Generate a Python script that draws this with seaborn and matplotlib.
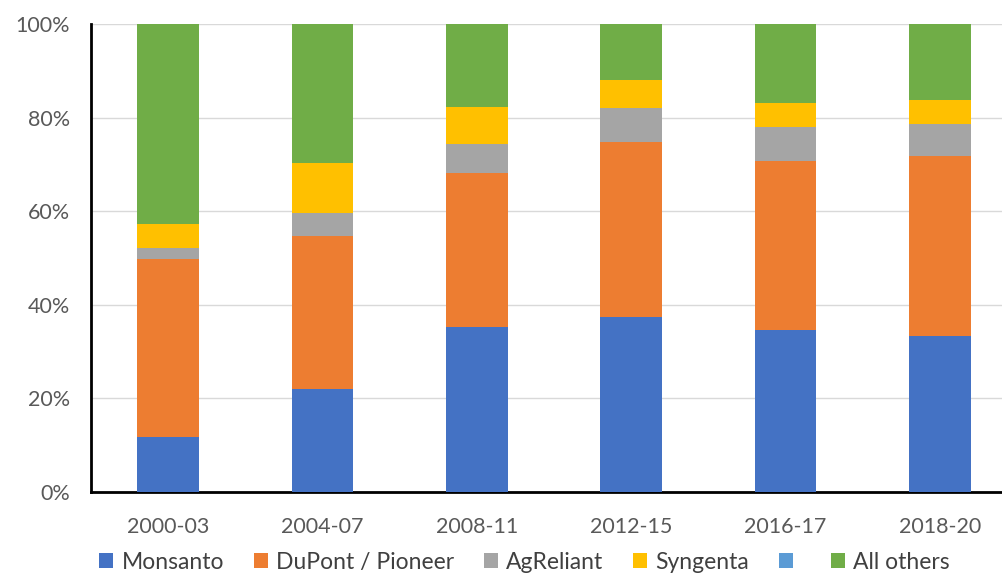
import matplotlib
matplotlib.use("Agg")
import matplotlib.pyplot as plt
from matplotlib.patches import Patch
import seaborn as sns
import pandas as pd
import numpy as np

periods = ["2000-03", "2004-07", "2008-11", "2012-15", "2016-17", "2018-20"]
monsanto = [11.7, 22.1, 35.2, 37.4, 34.6, 33.3]
dupont = [38.0, 32.5, 33.0, 37.4, 36.1, 38.5]
agreliant = [2.5, 5.0, 6.2, 7.3, 7.2, 6.8]
syngenta = [5.0, 10.6, 7.9, 6.0, 5.2, 5.1]
blank = [0, 0, 0, 0, 0, 0]
all_others = [42.8, 29.8, 17.7, 11.9, 16.9, 16.3]

series_names = ["Monsanto", "DuPont / Pioneer", "AgReliant", "Syngenta", "", "All others"]
series_values = [monsanto, dupont, agreliant, syngenta, blank, all_others]
colors = ["#4472C4", "#ED7D31", "#A5A5A5", "#FFC000", "#5B9BD5", "#70AD47"]
y_ticks = [0, 20, 40, 60, 80, 100]

sns.set_theme(style="white")
plt.rcParams["font.family"] = ["Lato", "DejaVu Sans"]

fig = plt.figure(figsize=(10.03, 5.73), dpi=100)
ax = fig.add_axes([91 / 1003, 81 / 573, 926 / 1003, 468 / 573])

# stacked: draw cumulative totals from top layer downward
df = pd.DataFrame({"period": periods})
cum = np.cumsum(np.array(series_values, dtype=float), axis=0)
for i in reversed(range(len(series_names))):
    df["val"] = cum[i]
    sns.barplot(data=df, x="period", y="val", color=colors[i], width=0.4,
                saturation=1, linewidth=0, ax=ax, zorder=3)

ax.set_xlim(-0.5, 5.5)
ax.set_ylim(0, 100)
ax.set_yticks(y_ticks)
ax.set_yticklabels([f"{v}%" for v in y_ticks])
ax.set_xlabel("")
ax.set_ylabel("")
ax.yaxis.grid(True, color="#D9D9D9", linewidth=1, zorder=0)
ax.set_axisbelow(True)
ax.tick_params(axis="both", length=0, labelsize=15.5, colors="#595959")
ax.tick_params(axis="x", pad=18)
ax.tick_params(axis="y", pad=15)
for s in ["top", "right"]:
    ax.spines[s].set_visible(False)
for s in ["left", "bottom"]:
    ax.spines[s].set_color("black")
    ax.spines[s].set_linewidth(2)

handles = [Patch(facecolor=c, edgecolor="none") for c in colors]
fig.legend(handles, series_names, loc="center", bbox_to_anchor=(0.523, 0.019),
           ncol=6, frameon=False, fontsize=16.5, handlelength=0.62, handleheight=0.62,
           handletextpad=0.35, columnspacing=1.3, labelcolor="#404040")

fig.savefig("out.png", dpi=100)
